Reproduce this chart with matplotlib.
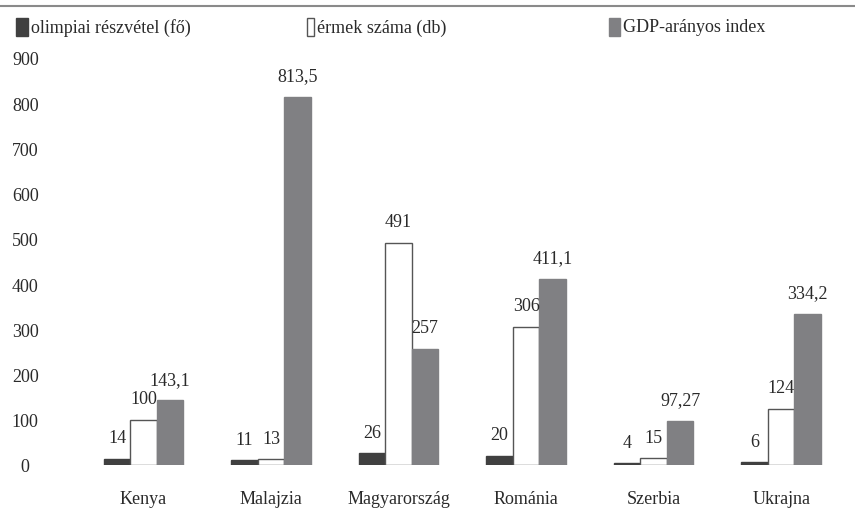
import matplotlib.pyplot as plt
import numpy as np
from matplotlib.patches import Rectangle
from matplotlib.lines import Line2D

countries = ['Kenya', 'Malajzia', 'Magyarország', 'Románia', 'Szerbia', 'Ukrajna']
olimpia = [14, 11, 26, 20, 4, 6]
ermek = [100, 13, 491, 306, 15, 124]
gdp = [143.1, 813.5, 257, 411.1, 97.27, 334.2]
series_names = ['olimpiai részvétel (fő)', 'érmek száma (db)', 'GDP-arányos index']
yticks = [0, 100, 200, 300, 400, 500, 600, 700, 800, 900]

plt.rcParams['font.family'] = ['Liberation Serif', 'DejaVu Serif']
txt = '#2a2a2a'
colors = ['#404040', 'white', '#808083']
edges = ['#404040', '#555555', '#808083']

W, H = 855, 510
fig = plt.figure(figsize=(W / 100, H / 100), dpi=100)
ax = fig.add_axes([60 / W, 44 / H, 785 / W, 436 / H])

x = np.arange(len(countries))
bw = 0.208
for i, vals in enumerate([olimpia, ermek, gdp]):
    bars = ax.bar(x + (i - 1) * bw, vals, bw, color=colors[i],
                  edgecolor=edges[i], linewidth=1.0)
    for b, v in zip(bars, vals):
        lab = ('%g' % v).replace('.', ',')
        ax.annotate(lab, (b.get_x() + b.get_width() / 2, v),
                    xytext=(0, 9), textcoords='offset points',
                    ha='center', va='bottom', fontsize=13, color=txt)

ax.set_xlim(-0.655, 5.50)
ax.set_ylim(0, 963.6)
for s in ax.spines.values():
    s.set_visible(False)

ax.set_yticks(yticks)
ax.set_yticklabels([str(t) for t in yticks])
for t in ax.get_yticklabels():
    t.set_ha('center')
ax.tick_params(axis='y', length=0, pad=25, labelsize=13, labelcolor=txt)

ax.set_xticks(x)
ax.set_xticklabels(countries)
ax.tick_params(axis='x', length=0, pad=18, labelsize=13, labelcolor=txt)

# top rule
fig.add_artist(Line2D([0, 1], [1 - 7 / H, 1 - 7 / H], color='#8a8a8a', lw=1.5,
                      transform=fig.transFigure))

# legend
box_x = [16, 307, 609]
box_w = [12, 7, 11]
for i, name in enumerate(series_names):
    fig.add_artist(Rectangle((box_x[i] / W, 1 - 37 / H), box_w[i] / W, 18 / H,
                             facecolor=colors[i], edgecolor=edges[i], lw=1.0,
                             transform=fig.transFigure))
    fig.text((box_x[i] + box_w[i] + 3) / W, 1 - 28 / H, name, fontsize=13,
             color=txt, va='center', ha='left')

fig.savefig('out.png', dpi=100)
